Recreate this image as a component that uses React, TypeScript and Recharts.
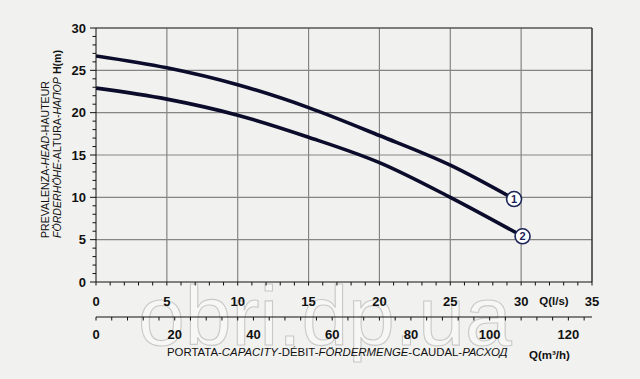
import React from 'react';
import { ComposedChart, Line, XAxis, YAxis, CartesianGrid, ReferenceLine } from 'recharts';

// Flow in l/s and head in m for the two pump curves
const curve1Q = [0, 5, 10, 15, 20, 25, 29.5];
const curve1H = [26.7, 25.3, 23.3, 20.6, 17.3, 13.8, 9.8];
const curve2Q = [0, 5, 10, 15, 20, 25, 30.1];
const curve2H = [22.9, 21.6, 19.7, 17.1, 14.1, 10.0, 5.4];
const curveLabels = ['1', '2'];

// Axis ticks
const qLsMinorTicks = Array.from({ length: 36 }, (_, i) => i);
const qLsLabels = [0, 5, 10, 15, 20, 25, 30, 35];
const qM3MinorTicks = Array.from({ length: 32 }, (_, i) => i * 4);
const qM3Labels = [0, 20, 40, 60, 80, 100, 120];
const qM3Range = [0, 126];
const hMinorTicks = Array.from({ length: 31 }, (_, i) => i);
const hLabels = [0, 5, 10, 15, 20, 25, 30];

const gridX = [5, 10, 15, 20, 25, 30];
const gridY = [5, 10, 15, 20, 25];

const data1 = curve1Q.map((q, i) => ({ q, h: curve1H[i] }));
const data2 = curve2Q.map((q, i) => ({ q, h: curve2H[i] }));
const m3Anchor = qM3Range.map((q) => ({ q, h: null }));

const FONT = '"Liberation Sans", Arial, sans-serif';
const NAVY = '#0b0b2b';

const YTick = (props: any) => {
  const { x, y, payload } = props;
  const major = hLabels.includes(payload.value);
  return (
    <g>
      <line x1={x} x2={x - (major ? 6 : 3.5)} y1={y} y2={y} stroke="#111" strokeWidth={1} />
      {major && (
        <text x={x - 10} y={y + 4.6} textAnchor="end" fontFamily={FONT} fontWeight="bold" fontSize={13} fill="#111">
          {payload.value}
        </text>
      )}
    </g>
  );
};

const LsTick = (props: any) => {
  const { x, y, payload } = props;
  const major = qLsLabels.includes(payload.value);
  return (
    <g>
      <line x1={x} x2={x} y1={y} y2={y + 3.5} stroke="#111" strokeWidth={1} />
      {major && (
        <text x={x} y={y + 23.5} textAnchor="middle" fontFamily={FONT} fontWeight="bold" fontSize={13} fill="#111">
          {payload.value}
        </text>
      )}
    </g>
  );
};

const M3Tick = (props: any) => {
  const { x, y, payload } = props;
  const major = qM3Labels.includes(payload.value);
  return (
    <g>
      <line x1={x} x2={x} y1={y} y2={y + 3.5} stroke="#111" strokeWidth={1} />
      {major && (
        <text x={x} y={y + 22} textAnchor="middle" fontFamily={FONT} fontWeight="bold" fontSize={13} fill="#111">
          {payload.value}
        </text>
      )}
    </g>
  );
};

const makeEndDot = (label: string, count: number) => (props: any) => {
  const { cx, cy, index } = props;
  if (index !== count - 1) return <g key={`d${label}${index}`} />;
  return (
    <g key={`d${label}${index}`}>
      <circle cx={cx} cy={cy} r={7.5} fill="#ffffff" stroke="#1c2556" strokeWidth={1.6} />
      <text x={cx} y={cy + 4} textAnchor="middle" fontFamily={FONT} fontWeight="bold" fontSize={11} fill="#1c2556">
        {label}
      </text>
    </g>
  );
};

export default function App() {
  return (
    <div style={{ position: 'absolute', left: 0, top: 0, width: 640, height: 379, background: '#f1f1ef', overflow: 'hidden' }}>
      <svg width={640} height={379} style={{ position: 'absolute', left: 0, top: 0 }}>
        <text x={138} y={345} fontFamily={FONT} fontSize={84} fill="#f7f7f6" stroke="#c9c9c9" strokeWidth={1.1}>
          obri.dp.ua
        </text>
      </svg>
      <div style={{ position: 'absolute', left: 0, top: 0 }}>
        <ComposedChart width={640} height={379} margin={{ top: 28, right: 48, bottom: 0, left: 0 }}>
          <CartesianGrid
            xAxisId="ls"
            verticalValues={gridX}
            horizontalValues={gridY}
            stroke="#858585"
            strokeWidth={1.2}
          />
          <ReferenceLine xAxisId="ls" y={30} stroke="#555" strokeWidth={1.5} />
          <ReferenceLine xAxisId="ls" x={35} stroke="#333" strokeWidth={1.5} />
          <XAxis
            xAxisId="ls"
            type="number"
            dataKey="q"
            domain={[0, 35]}
            ticks={qLsMinorTicks}
            interval={0}
            height={35}
            tickSize={0}
            tickMargin={0}
            tickLine={false}
            axisLine={{ stroke: '#111', strokeWidth: 1 }}
            tick={<LsTick />}
            allowDataOverflow
          />
          <XAxis
            xAxisId="m3"
            type="number"
            dataKey="q"
            domain={[0, 126]}
            ticks={qM3MinorTicks}
            interval={0}
            height={62}
            tickSize={0}
            tickMargin={0}
            tickLine={false}
            axisLine={{ stroke: '#111', strokeWidth: 1 }}
            tick={<M3Tick />}
            allowDataOverflow
          />
          <YAxis
            type="number"
            domain={[0, 30]}
            ticks={hMinorTicks}
            interval={0}
            width={96}
            tickSize={0}
            tickMargin={0}
            tickLine={false}
            axisLine={{ stroke: '#111', strokeWidth: 1 }}
            tick={<YTick />}
            allowDataOverflow
          />
          <Line
            xAxisId="m3"
            data={m3Anchor}
            dataKey="h"
            stroke="none"
            dot={false}
            activeDot={false}
            isAnimationActive={false}
          />
          <Line
            xAxisId="ls"
            data={data1}
            dataKey="h"
            type="monotone"
            stroke={NAVY}
            strokeWidth={3.6}
            dot={makeEndDot(curveLabels[0], data1.length)}
            activeDot={false}
            isAnimationActive={false}
          />
          <Line
            xAxisId="ls"
            data={data2}
            dataKey="h"
            type="monotone"
            stroke={NAVY}
            strokeWidth={3.6}
            dot={makeEndDot(curveLabels[1], data2.length)}
            activeDot={false}
            isAnimationActive={false}
          />
        </ComposedChart>
      </div>
      <svg width={640} height={379} style={{ position: 'absolute', left: 0, top: 0, pointerEvents: 'none' }}>
        <text x={554} y={305} textAnchor="middle" fontFamily={FONT} fontWeight="bold" fontSize={11.5} fill="#111">
          Q(l/s)
        </text>
        <text x={167} y={355.5} fontFamily={FONT} fontSize={11.4} fill="#111">
          PORTATA-<tspan fontStyle="italic">CAPACITY</tspan>-DÉBIT-<tspan fontStyle="italic">FÖRDERMENGE</tspan>-CAUDAL-<tspan fontStyle="italic">РАСХОД</tspan>
        </text>
        <text x={529} y={358.5} fontFamily={FONT} fontWeight="bold" fontSize={11.5} fill="#111">
          Q(m³/h)
        </text>
        <g transform="translate(49,238) rotate(-90)">
          <text x={0} y={0} fontFamily={FONT} fontSize={10.6} fill="#111">
            PREVALENZA-<tspan fontStyle="italic">HEAD</tspan>-HAUTEUR
          </text>
        </g>
        <g transform="translate(61,238) rotate(-90)">
          <text x={0} y={0} fontFamily={FONT} fontSize={10.6} fill="#111">
            <tspan fontStyle="italic">FÖRDERHÖHE</tspan>-ALTURA-<tspan fontStyle="italic">НАПОР</tspan>
            <tspan fontWeight="bold" dx={3}>H(m)</tspan>
          </text>
        </g>
      </svg>
    </div>
  );
}
